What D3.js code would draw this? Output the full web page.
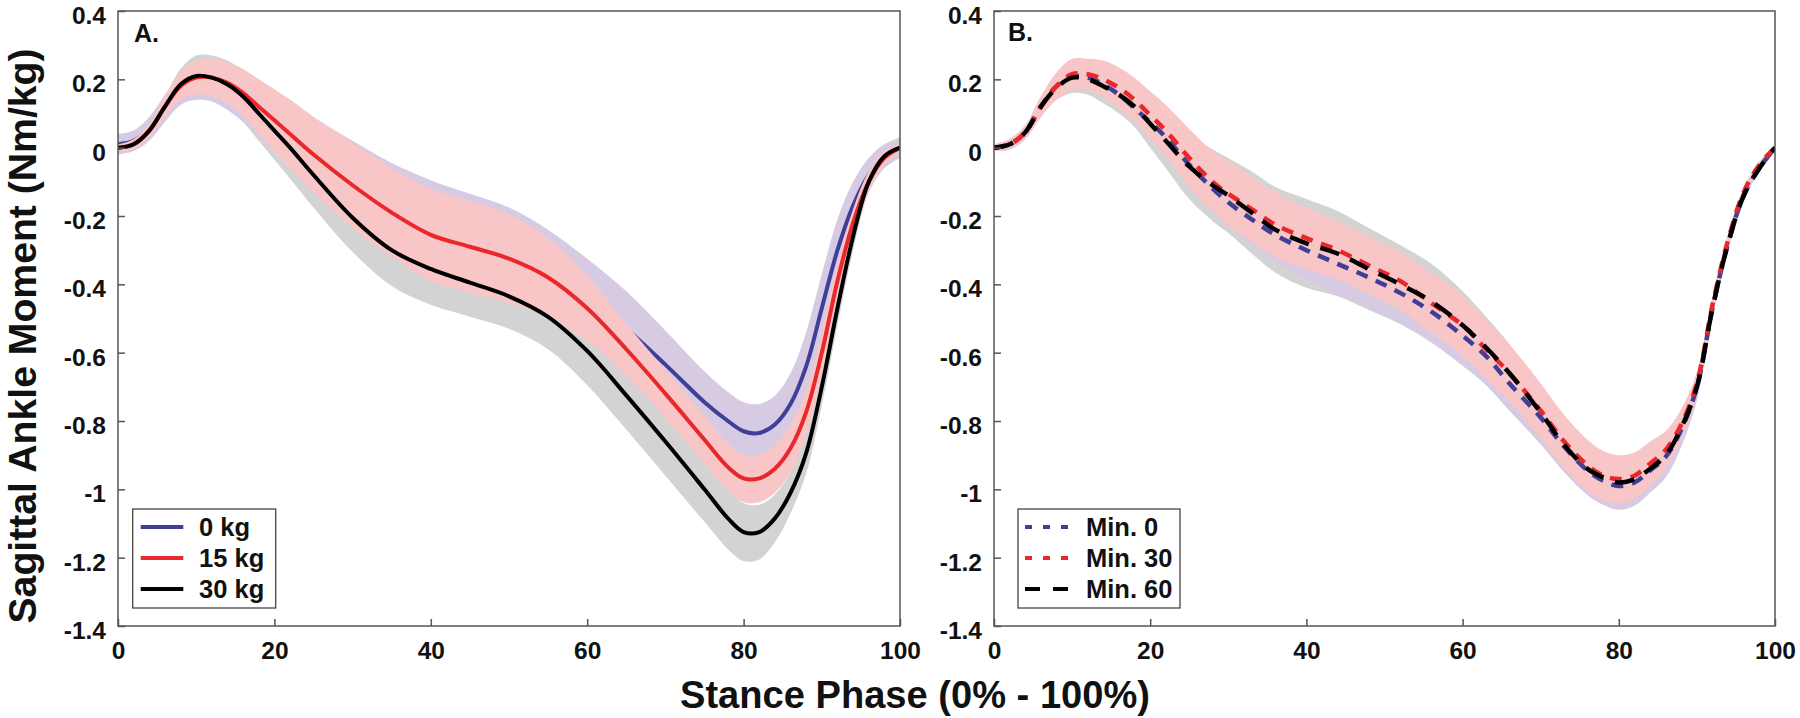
<!DOCTYPE html>
<html><head><meta charset="utf-8">
<script src="https://cdn.jsdelivr.net/npm/d3@7"></script>
<style>
html,body{margin:0;padding:0;background:#fff;}
svg{display:block;}
text{font-family:"Liberation Sans",Arial,Helvetica,sans-serif;font-weight:bold;fill:#111;}
</style>
</head><body>
<svg id="chart" width="1800" height="718"></svg>
<script>
// ---------- DATA ----------
const xTicks = [0, 20, 40, 60, 80, 100];
const xTickLabels = ["0", "20", "40", "60", "80", "100"];
const yTicks = [0.4, 0.2, 0, -0.2, -0.4, -0.6, -0.8, -1, -1.2, -1.4];
const yTickLabels = ["0.4", "0.2", "0", "-0.2", "-0.4", "-0.6", "-0.8", "-1", "-1.2", "-1.4"];

// Panel A: load conditions (stance phase %)
const xA = [0,2,4,6,8,10,12,14,16,18,20,22,25,30,35,40,45,50,55,60,65,70,75,78,80,82,84,86,88,90,92,94,96,98,100];
const kg0Mean  = [0.01,0.02,0.055,0.115,0.17,0.19,0.19,0.175,0.15,0.115,0.08,0.04,-0.02,-0.1,-0.17,-0.225,-0.265,-0.305,-0.36,-0.44,-0.53,-0.635,-0.745,-0.8,-0.83,-0.835,-0.81,-0.75,-0.64,-0.47,-0.3,-0.17,-0.08,-0.025,0.0];
const kg0Sd    = [0.03,0.03,0.035,0.04,0.045,0.05,0.055,0.065,0.075,0.085,0.09,0.1,0.11,0.12,0.125,0.13,0.13,0.13,0.12,0.115,0.11,0.1,0.09,0.085,0.085,0.085,0.085,0.09,0.1,0.1,0.09,0.07,0.05,0.035,0.03];
const kg15Mean = [0.0,0.01,0.05,0.12,0.18,0.205,0.205,0.19,0.16,0.12,0.08,0.04,-0.02,-0.11,-0.19,-0.255,-0.29,-0.325,-0.38,-0.47,-0.59,-0.72,-0.855,-0.935,-0.968,-0.968,-0.94,-0.88,-0.774,-0.6,-0.39,-0.22,-0.1,-0.03,0.0];
const kg15Sd   = [0.01,0.015,0.02,0.03,0.04,0.05,0.055,0.06,0.07,0.08,0.09,0.1,0.11,0.125,0.13,0.135,0.135,0.13,0.115,0.095,0.075,0.07,0.07,0.07,0.07,0.07,0.07,0.07,0.065,0.06,0.05,0.04,0.03,0.02,0.01];
const kg30Mean = [0.0,0.01,0.05,0.12,0.185,0.21,0.205,0.185,0.15,0.1,0.05,0.0,-0.08,-0.205,-0.3,-0.355,-0.395,-0.435,-0.495,-0.595,-0.725,-0.86,-1.0,-1.085,-1.125,-1.125,-1.085,-1.01,-0.894,-0.7,-0.47,-0.26,-0.1,-0.025,0.0];
const kg30Sd   = [0.01,0.015,0.02,0.03,0.045,0.06,0.065,0.07,0.075,0.08,0.085,0.09,0.095,0.1,0.105,0.105,0.1,0.095,0.095,0.1,0.1,0.1,0.095,0.09,0.085,0.08,0.07,0.06,0.06,0.055,0.05,0.04,0.03,0.02,0.01];

// Panel B: time conditions
const xB = [0,2,4,6,8,10,12,14,16,18,20,22,25,28,30,33,36,40,44,48,52,56,60,63,66,70,73,76,78,80,82,84,86,88,90,92,94,96,98,100];
const min0Mean  = [0.0,0.01,0.045,0.12,0.18,0.208,0.205,0.185,0.155,0.115,0.075,0.03,-0.05,-0.12,-0.16,-0.21,-0.255,-0.3,-0.34,-0.38,-0.425,-0.48,-0.55,-0.61,-0.69,-0.79,-0.875,-0.945,-0.975,-0.99,-0.98,-0.945,-0.905,-0.825,-0.7,-0.47,-0.28,-0.14,-0.06,0.0];
const min0Sd    = [0.01,0.015,0.02,0.025,0.03,0.035,0.035,0.04,0.04,0.045,0.05,0.055,0.06,0.065,0.07,0.075,0.08,0.085,0.09,0.09,0.09,0.09,0.088,0.085,0.08,0.078,0.075,0.072,0.07,0.07,0.068,0.065,0.06,0.05,0.04,0.03,0.02,0.015,0.01,0.01];
const min30Mean = [0.0,0.01,0.045,0.12,0.18,0.215,0.215,0.2,0.175,0.14,0.095,0.05,-0.03,-0.1,-0.135,-0.18,-0.225,-0.265,-0.3,-0.345,-0.39,-0.455,-0.52,-0.59,-0.66,-0.77,-0.86,-0.93,-0.96,-0.97,-0.96,-0.925,-0.885,-0.81,-0.69,-0.46,-0.27,-0.13,-0.05,0.0];
const min30Sd   = [0.01,0.015,0.02,0.03,0.04,0.045,0.045,0.055,0.06,0.065,0.07,0.075,0.085,0.09,0.095,0.095,0.095,0.09,0.085,0.085,0.085,0.088,0.088,0.086,0.084,0.08,0.078,0.075,0.072,0.07,0.068,0.065,0.055,0.045,0.035,0.025,0.02,0.015,0.01,0.01];
const min60Mean = [0.0,0.01,0.045,0.12,0.175,0.205,0.2,0.18,0.155,0.12,0.07,0.02,-0.055,-0.11,-0.14,-0.19,-0.24,-0.28,-0.31,-0.355,-0.4,-0.45,-0.52,-0.585,-0.66,-0.775,-0.87,-0.94,-0.965,-0.98,-0.97,-0.94,-0.9,-0.82,-0.7,-0.47,-0.28,-0.14,-0.06,0.0];
const min60Sd   = [0.01,0.015,0.02,0.03,0.035,0.045,0.045,0.05,0.055,0.06,0.07,0.08,0.095,0.105,0.11,0.12,0.125,0.13,0.125,0.12,0.115,0.11,0.1,0.09,0.085,0.075,0.07,0.065,0.06,0.06,0.055,0.05,0.045,0.035,0.025,0.02,0.015,0.01,0.01,0.01];

const legendA = ["0 kg", "15 kg", "30 kg"];
const legendB = ["Min. 0", "Min. 30", "Min. 60"];

// ---------- STYLE ----------
const C = {
  blue: "#3f3f99", red: "#e8282a", black: "#000000",
  lav: "#d6cbe3", pink: "#f8c6c7", gray: "#d3d3d3",
  axis: "#555555"
};

const svg = d3.select("#chart");
const yTop = 11, yBot = 626;
const y = d3.scaleLinear().domain([-1.4, 0.4]).range([yBot, yTop]);
const curve = d3.curveCatmullRom.alpha(0.5);

function makePanel(x0, x1, id) {
  const x = d3.scaleLinear().domain([0, 100]).range([x0, x1]);
  const g = svg.append("g");
  g.append("clipPath").attr("id", id).append("rect")
    .attr("x", x0).attr("y", yTop).attr("width", x1 - x0).attr("height", yBot - yTop);
  const plot = g.append("g").attr("clip-path", `url(#${id})`);
  return { x, g, plot };
}

function band(p, xs, mean, sd, color) {
  const data = xs.map((v, i) => [v, mean[i], sd[i]]);
  p.plot.append("path").datum(data)
    .attr("fill", color).attr("stroke", "none")
    .attr("d", d3.area().curve(curve)
      .x(d => p.x(d[0])).y0(d => y(d[1] - d[2])).y1(d => y(d[1] + d[2])));
}
function line(p, xs, mean, color, dash, w) {
  const data = xs.map((v, i) => [v, mean[i]]);
  p.plot.append("path").datum(data)
    .attr("fill", "none").attr("stroke", color).attr("stroke-width", w || 4)
    .attr("stroke-dasharray", dash || null)
    .attr("d", d3.line().curve(curve).x(d => p.x(d[0])).y(d => y(d[1])));
}

function axes(p, x0, x1) {
  const ax = d3.axisLeft(y).tickValues(yTicks)
    .tickFormat((d, i) => yTickLabels[i]).tickSizeInner(-7).tickSizeOuter(0).tickPadding(12);
  const ga = p.g.append("g").attr("transform", `translate(${x0},0)`).call(ax);
  ga.select(".domain").remove();
  ga.selectAll("line").attr("stroke", C.axis).attr("stroke-width", 1.5);
  ga.selectAll("text").attr("font-size", 24.5).attr("dy", null).attr("y", 12.5)
    .attr("fill", "#111").attr("font-family", '"Liberation Sans",Arial,sans-serif').attr("font-weight", "bold");

  const bx = d3.axisBottom(p.x).tickValues(xTicks)
    .tickFormat((d, i) => xTickLabels[i]).tickSizeInner(-7).tickSizeOuter(0);
  const gb = p.g.append("g").attr("transform", `translate(0,${yBot})`).call(bx);
  gb.select(".domain").remove();
  gb.selectAll("line").attr("stroke", C.axis).attr("stroke-width", 1.5);
  gb.selectAll("text").attr("font-size", 24.5).attr("dy", null).attr("y", 33)
    .attr("fill", "#111").attr("font-family", '"Liberation Sans",Arial,sans-serif').attr("font-weight", "bold");

  p.g.append("rect").attr("x", x0).attr("y", yTop).attr("width", x1 - x0).attr("height", yBot - yTop)
    .attr("fill", "none").attr("stroke", C.axis).attr("stroke-width", 1.5);
}

function legend(p, bx, bw, textX, sampleX0, sampleX1, labels, colors, dashes) {
  const by = 509, bh = 99;
  p.g.append("rect").attr("x", bx).attr("y", by).attr("width", bw).attr("height", bh)
    .attr("fill", "#fff").attr("stroke", "#444").attr("stroke-width", 1.3);
  const rows = [527, 558, 589];
  labels.forEach((lab, i) => {
    p.g.append("line").attr("x1", sampleX0).attr("x2", sampleX1).attr("y1", rows[i]).attr("y2", rows[i])
      .attr("stroke", colors[i]).attr("stroke-width", 4).attr("stroke-dasharray", dashes ? dashes[i] : null);
    p.g.append("text").attr("x", textX).attr("y", rows[i] + 9).attr("font-size", 25.5).text(lab);
  });
}

// ---------- PANEL A ----------
const A = makePanel(118, 900, "clipA");
band(A, xA, kg30Mean, kg30Sd, C.gray);
band(A, xA, kg0Mean, kg0Sd, C.lav);
line(A, xA, kg0Mean, C.blue);
band(A, xA, kg15Mean, kg15Sd, C.pink);
line(A, xA, kg15Mean, C.red);
line(A, xA, kg30Mean, C.black);
axes(A, 118, 900);
A.g.append("text").attr("x", 134).attr("y", 42).attr("font-size", 25).text("A.");
legend(A, 132.7, 143, 199, 140.7, 183.3, legendA, [C.blue, C.red, C.black], null);

// ---------- PANEL B ----------
const B = makePanel(994, 1775, "clipB");
band(B, xB, min60Mean, min60Sd, C.gray);
band(B, xB, min0Mean, min0Sd, C.lav);
band(B, xB, min30Mean, min30Sd, C.pink);
line(B, xB, min0Mean, C.blue, "12,9", 4.5);
line(B, xB, min30Mean, C.red, "12,9", 4.5);
line(B, xB, min60Mean, C.black, "20,12", 4.5);
axes(B, 994, 1775);
B.g.append("text").attr("x", 1008).attr("y", 41).attr("font-size", 25).text("B.");
legend(B, 1018, 162, 1086, 1025, 1069, legendB, [C.blue, C.red, C.black], ["7,11", "7,11", "15,13"]);

// ---------- AXIS TITLES ----------
svg.append("text").attr("x", 915).attr("y", 708).attr("text-anchor", "middle")
  .attr("font-size", 38).attr("textLength", 470).attr("lengthAdjust", "spacingAndGlyphs")
  .text("Stance Phase (0% - 100%)");
svg.append("text").attr("transform", "translate(36,336) rotate(-90)").attr("text-anchor", "middle")
  .attr("font-size", 38).attr("textLength", 575).attr("lengthAdjust", "spacingAndGlyphs")
  .text("Sagittal Ankle Moment (Nm/kg)");
</script>
</body></html>
